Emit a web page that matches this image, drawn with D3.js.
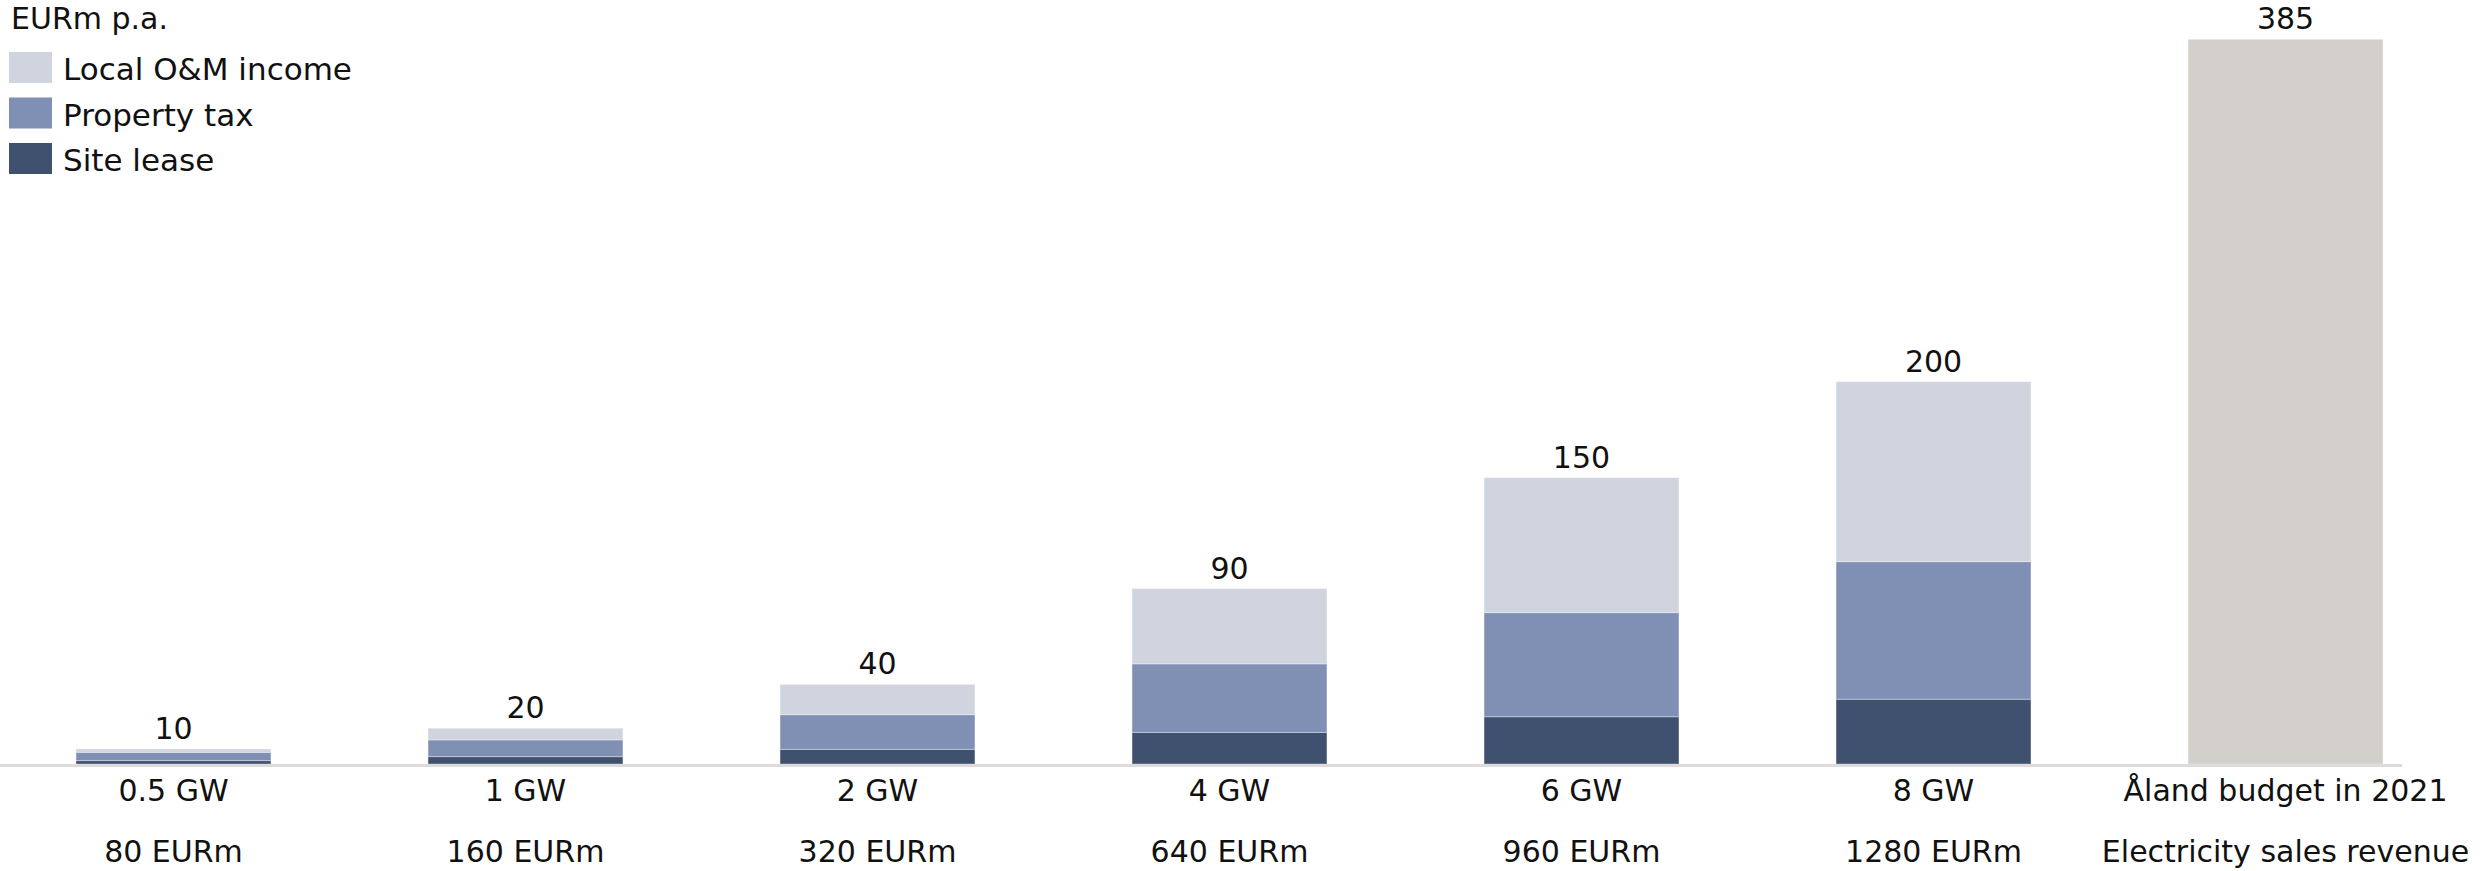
<!DOCTYPE html>
<html>
<head>
<meta charset="utf-8">
<script src="https://cdn.jsdelivr.net/npm/d3@7"></script>
<style>
  html, body { margin: 0; padding: 0; background: #ffffff; }
  svg text { font-family: "DejaVu Sans", Verdana, sans-serif; fill: #111111; }
</style>
</head>
<body>
<svg id="chart" width="2484" height="871"></svg>
<script>
// ---- Data ----
const categories = ["0.5 GW", "1 GW", "2 GW", "4 GW", "6 GW", "8 GW", "Åland budget in 2021"];
const subLabels = ["80 EURm", "160 EURm", "320 EURm", "640 EURm", "960 EURm", "1280 EURm", "Electricity sales revenue"];
const siteLease   = [1.8, 3.9, 7.8, 16.8, 25.1, 34.4, 0];
const propertyTax = [4.4, 8.9, 18.4, 36.4, 55.3, 73.1, 0];
const localOM     = [1.8, 6.2, 16.1, 40.0, 71.7, 95.6, 0];
const budget      = [0, 0, 0, 0, 0, 0, 385];
const totalLabels = ["10", "20", "40", "90", "150", "200", "385"];
const seriesNames = ["Site lease", "Property tax", "Local O&M income", "Budget"];
const seriesColors = ["#40506f", "#7f90b4", "#d0d4de", "#d3d0cb"];
const legendItems = ["Local O&M income", "Property tax", "Site lease"];
const legendColors = ["#d0d4de", "#7f90b4", "#40506f"];
const unitLabel = "EURm p.a.";

// ---- Build table ----
const table = categories.map((c, i) => ({
  cat: c,
  "Site lease": siteLease[i],
  "Property tax": propertyTax[i],
  "Local O&M income": localOM[i],
  "Budget": budget[i]
}));

const svg = d3.select("#chart");
const baseY = 764;
const topY = 39.3;

const x = d3.scaleBand()
  .domain(categories)
  .range([0, 2459])
  .paddingInner(0.4463)
  .paddingOuter(0.216);

const y = d3.scaleLinear().domain([0, 385]).range([baseY, topY]);

const color = d3.scaleOrdinal().domain(seriesNames).range(seriesColors);

const stack = d3.stack().keys(seriesNames);
const stacked = stack(table);

// bars
svg.append("g").selectAll("g")
  .data(stacked)
  .join("g")
  .attr("fill", d => color(d.key))
  .selectAll("rect")
  .data(d => d.filter(s => s[1] - s[0] > 0))
  .join("rect")
  .attr("x", d => x(d.data.cat))
  .attr("width", x.bandwidth())
  .attr("y", d => y(d[1]))
  .attr("height", d => y(d[0]) - y(d[1]))
  .attr("stroke", "rgba(255,255,255,0.35)")
  .attr("stroke-width", 1);

// baseline
svg.append("line")
  .attr("x1", 0).attr("x2", 2402)
  .attr("y1", baseY + 1.5).attr("y2", baseY + 1.5)
  .attr("stroke", "#dcdcdc")
  .attr("stroke-width", 3);

// total labels
const totals = table.map(d => seriesNames.reduce((s, k) => s + d[k], 0));
svg.append("g").selectAll("text")
  .data(categories)
  .join("text")
  .attr("x", d => x(d) + x.bandwidth() / 2)
  .attr("y", (d, i) => y(totals[i]) - 10)
  .attr("text-anchor", "middle")
  .attr("font-size", 30)
  .text((d, i) => totalLabels[i]);

// category labels (axis)
const xAxis = d3.axisBottom(x).tickSize(0).tickPadding(0);
const axisG = svg.append("g").attr("transform", `translate(0,${baseY})`).call(xAxis);
axisG.select(".domain").remove();
axisG.selectAll(".tick text")
  .attr("font-size", 30)
  .attr("font-family", "DejaVu Sans, Verdana, sans-serif")
  .attr("fill", "#111111")
  .attr("dy", null)
  .attr("y", 37);
axisG.selectAll(".tick")
  .append("text")
  .attr("font-size", 30)
  .attr("font-family", "DejaVu Sans, Verdana, sans-serif")
  .attr("fill", "#111111")
  .attr("text-anchor", "middle")
  .attr("y", 98)
  .text((d, i) => subLabels[i]);

// unit label
svg.append("text")
  .attr("x", 11).attr("y", 29)
  .attr("font-size", 30)
  .text(unitLabel);

// legend
const lg = svg.append("g").selectAll("g")
  .data(legendItems)
  .join("g")
  .attr("transform", (d, i) => `translate(9,${52 + i * 45.5})`);
lg.append("rect")
  .attr("width", 43).attr("height", 31)
  .attr("fill", (d, i) => legendColors[i]);
lg.append("text")
  .attr("x", 54).attr("y", 28)
  .attr("font-size", 31)
  .text(d => d);
</script>
</body>
</html>
